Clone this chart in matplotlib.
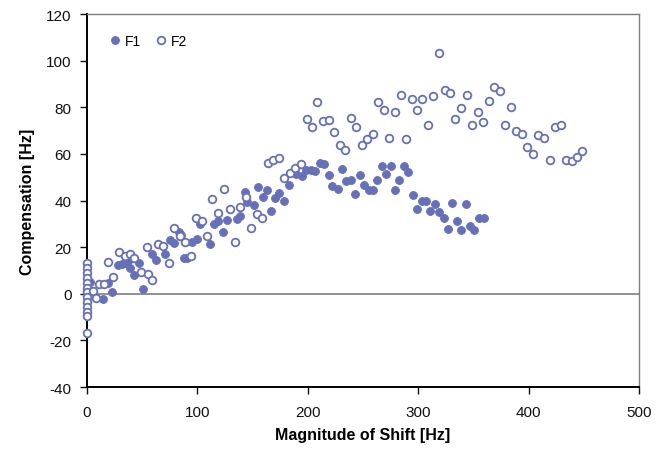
import numpy as np
import matplotlib.pyplot as plt

# =========================
# Data
# =========================
f1_shift = [3, 14.8, 18.7, 22.8, 27.8, 31.4, 34.4, 36.9, 38.8, 42.8, 47, 50.4,
            59.2, 62.5, 70.7, 75, 79, 83, 85, 87.5, 90.8, 95.3, 99.3, 102.4,
            111, 115, 118.5, 123, 127, 136, 139, 142.8, 145.3, 151.3, 154.8,
            159, 163, 167, 170.5, 173.8, 178.4, 183.3, 189.5, 194.5, 198,
            202.6, 206.5, 210.8, 215, 219, 222.2, 227, 231, 235, 238.8, 243,
            247, 251.2, 255.4, 259, 263, 267, 271, 275, 279, 283, 287, 291,
            295, 299, 303, 307, 311, 315, 319, 323, 327, 331, 334.8, 339, 343,
            347, 351, 355.4, 359.3]
f1_comp = [5, -2.1, 4.6, 0.7, 12.4, 12.9, 13.3, 13.9, 11, 7.9, 13.2, 2.1,
           17.2, 14.5, 17.2, 23, 21.9, 26.5, 25.3, 15.2, 15.5, 22.3, 23.3, 30,
           21.5, 29.8, 31, 26.7, 31.5, 31.9, 33.5, 43.6, 39.3, 38.2, 46,
           41.6, 44.6, 35.7, 41.1, 43.2, 40, 46.8, 51.5, 50.3, 52.9,
           53.2, 52.6, 56.2, 55.5, 50.8, 46.2, 45, 53.6, 48.3, 49, 42.6,
           51, 46.8, 44.3, 44.3, 48.6, 54.8, 51.5, 54.8, 44.3, 49, 54.8, 52.2,
           42.2, 36.5, 39.7, 40, 35.5, 38.5, 35, 32.5, 27.6, 39, 31.2, 27.2, 38.5,
           29, 27.5, 32.6, 32.4]

f2_shift = [0, 0, 0, 0, 0, 0, 0, 0, 0, 0, 0, 0, 0,
            5, 8.3, 11, 15.5, 19, 24, 29.3, 34, 39, 43, 49, 55.3, 58.6, 54,
            64, 69, 74, 79, 84, 89, 94, 99, 104.5, 109, 113.5, 118.5, 124,
            129.5, 134, 139, 143.8, 148.8, 154.3, 158.8, 164, 168.8, 174,
            178.8, 183.6, 188.4, 193.4, 199, 203.8, 208.6, 213.8, 219.2, 224,
            228.9, 234, 238.8, 243.9, 248.8, 253.9, 259, 263.9, 268.7, 273.6,
            279, 284, 288.7, 294, 298.6, 303.7, 309, 313.7, 318.8, 324, 328.8,
            333.6, 338.8, 343.9, 349, 353.9, 359, 363.9, 369, 373.8, 378.9,
            383.8, 388.9, 393.8, 398.9, 404, 408.8, 414, 419, 424, 429, 434,
            439, 443.8, 448.7]
f2_comp = [13, 11, 9, 6.9, 4.7, 2.6, 0.7, -1.4, -3.6, -5.7, -7.9, -9.6, -16.9,
           1, -1.8, 4.3, 4, 13.5, 7, 18, 16.4, 17, 15.5, 9.3, 8.6, 5.7, 20,
           21.5, 20.4, 13, 28, 24.8, 22.4, 16.2, 32.5, 31.2, 24.8, 40.8, 34.6, 45,
           36.5, 22.4, 37.2, 41.5, 28.3, 34.3, 32.5, 56.2, 57.2, 58.3,
           49.8, 52, 54, 55.8, 75, 71.4, 82.3, 74, 74.4, 69.5,
           63.9, 61.5, 75.5, 71.4, 64, 66.4, 68.5, 82.3, 79, 66.8,
           78.1, 85.4, 66.5, 83.7, 78.7, 83.7, 72.5, 85, 103.3, 87.3, 86.1,
           75, 79.8, 85.4, 72.5, 77.8, 73.5, 82.8, 88.8, 86.8, 72.5,
           79.9, 70, 68.5, 63, 59.8, 67.9, 66.9, 57.5, 71.5, 72.2, 57.2,
           56.8, 58.5, 61.4]

x_ticks = [0, 100, 200, 300, 400, 500]
y_ticks = [-40, -20, 0, 20, 40, 60, 80, 100, 120]

# =========================
# Plot
# =========================
plt.rcParams["font.family"] = ["Liberation Sans", "DejaVu Sans"]
plt.rcParams["axes.unicode_minus"] = False

point_color = "#6570B9"

fig = plt.figure(figsize=(6.65, 4.56), dpi=100)
ax = fig.add_axes([0.1308, 0.1491, 0.8301, 0.818])

ax.axhline(0, color="#7f7f7f", linewidth=1.2, zorder=1)

ax.plot(f1_shift, f1_comp, linestyle="none", marker="o", markersize=5.7,
        markerfacecolor=point_color, markeredgecolor=point_color,
        markeredgewidth=0.6, label="F1", zorder=3, clip_on=False)
ax.plot(f2_shift, f2_comp, linestyle="none", marker="o", markersize=5.5,
        markerfacecolor="white", markeredgecolor=point_color,
        markeredgewidth=1.3, label="F2", zorder=4, clip_on=False)

ax.set_xlim(0, 500)
ax.set_ylim(-40, 120)
ax.set_xticks(x_ticks)
ax.set_yticks(y_ticks)

ax.set_xlabel("Magnitude of Shift [Hz]", fontsize=11.5, fontweight="bold",
              labelpad=6)
ax.set_ylabel("Compensation [Hz]", fontsize=11.5, fontweight="bold",
              labelpad=8)

ax.tick_params(axis="both", direction="out", length=5, width=1.0,
               labelsize=11, colors="#111111")
ax.tick_params(axis="x", pad=8)
ax.tick_params(axis="y", pad=6)

for side in ["left", "bottom"]:
    ax.spines[side].set_linewidth(1.4)
    ax.spines[side].set_color("black")
for side in ["top", "right"]:
    ax.spines[side].set_linewidth(1.0)
    ax.spines[side].set_color("#7f7f7f")

ax.legend(loc="upper left", bbox_to_anchor=(0.02, 0.97), ncol=2,
          frameon=False, fontsize=10, handletextpad=0.1,
          columnspacing=0.9, handlelength=1.2, borderaxespad=0.2)

fig.savefig("out.png", dpi=100)
